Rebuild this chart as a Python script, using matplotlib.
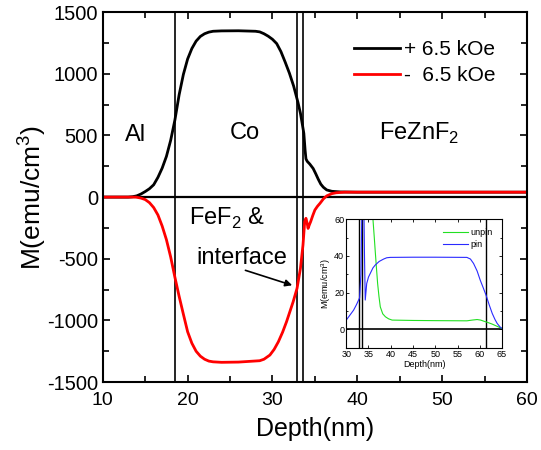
import numpy as np
import matplotlib
matplotlib.use('Agg')
import matplotlib.pyplot as plt
from matplotlib.ticker import MultipleLocator

plt.rcParams['font.family'] = ['Liberation Sans', 'DejaVu Sans']
plt.rcParams['mathtext.fontset'] = 'custom'
plt.rcParams['mathtext.rm'] = 'Liberation Sans'
plt.rcParams['axes.unicode_minus'] = False

#Perfil de magnetizacion, campo positivo
depth_pos = [10, 13, 13.5, 14, 14.5, 15, 15.5, 16, 16.5, 17, 17.5, 18, 18.5, 19, 19.5, 20, 20.5,
             21, 21.5, 22, 22.5, 23, 24, 26, 28, 28.5, 29, 29.5, 30, 30.5, 31, 31.5, 32, 32.5,
             33, 33.3, 33.5, 33.7, 33.85, 33.95, 34.1, 34.4, 34.8, 35.1, 35.4, 35.7, 36, 36.4,
             37, 38, 40, 50, 60]
m_pos = [0, 0, 3, 10, 25, 45, 68, 100, 160, 235, 330, 460, 625, 830, 995, 1120, 1205,
         1265, 1303, 1325, 1338, 1345, 1348, 1349, 1345, 1340, 1325, 1305, 1280, 1245, 1180, 1095, 1005, 900,
         770, 680, 600, 517, 380, 310, 290, 268, 232, 190, 145, 105, 80, 58,
         47, 42, 40, 40, 40]

#Perfil de magnetizacion, campo negativo
depth_neg = [10, 13.9, 14.5, 15, 15.5, 16, 16.5, 17, 17.5, 18, 18.5, 19, 19.5, 20, 20.5, 21, 21.5,
             22, 22.5, 23, 24, 26, 28.5, 29, 29.7, 30.2, 30.7, 31.2, 31.66, 32.05, 32.44, 32.9,
             33.3, 33.6, 33.8, 33.95, 34.1, 34.2, 34.35, 34.5, 34.75, 35.0, 35.3, 35.6, 36, 36.4,
             37, 37.5, 38.5, 40, 50, 60]
m_neg = [0, 0, -8, -20, -45, -85, -145, -235, -345, -485, -650, -805, -950, -1092, -1185, -1250, -1290,
         -1315, -1330, -1336, -1340, -1338, -1327, -1315, -1281, -1235, -1173, -1095, -1011, -930, -849, -740,
         -578, -389, -200, -172, -215, -254, -225, -200, -150, -105, -75, -51, -15, 10,
         28, 35, 40, 40, 40, 40]

#Inset: unpin y pin
depth_unpin = [34.5, 35.5, 36.0, 36.3, 36.5, 36.8, 37.05, 37.35, 37.65, 38.2, 38.8, 39.5, 40.3, 45,
               50, 57.1, 58.3, 59.4, 60.2, 60.9, 61.8, 62.8, 64, 65]
m_unpin = [200, 100, 60, 50, 43, 33, 25, 18, 12.3, 8.5, 6.9, 5.8, 5.1, 4.9,
           4.8, 4.7, 5.1, 5.4, 5.1, 4.5, 3.8, 2.9, 1.6, 0.5]
depth_pin = [30, 30.8, 31.65, 32.3, 33.0, 33.3, 33.6, 33.9, 34.1, 34.27, 34.6, 35, 35.4, 36, 36.5,
             37.4, 38.4, 39.1, 39.9, 45, 50, 57.1, 57.9, 58.6, 59.4, 60.1, 60.8, 61.4, 62.1,
             62.8, 63.4, 63.9, 64.5, 65]
m_pin = [5.1, 7.7, 10.5, 13.5, 17.2, 30, 80, 80, 40, 16, 25, 28.5, 30.5, 33.5, 35,
         37, 38.3, 39, 39.2, 39.3, 39.3, 39.2, 38.3, 35.9, 31.8, 26.8, 22.5, 18.7, 13.5,
         8.7, 5.5, 3.3, 1.5, 0.5]

#Interfaces
v_main = [18.57, 32.9, 33.55]
v_inset = [32.9, 33.52, 61.4]

fig = plt.figure(figsize=(5.41, 4.5), dpi=100)
ax = fig.add_axes([0.190, 0.151, 0.784, 0.822])

for xv in v_main:
  ax.axvline(xv, color='black', lw=1.2)
ax.axhline(0, color='black', lw=1.6)
ax.plot(depth_pos, m_pos, color='black', lw=2.0, label='+ 6.5 kOe')
ax.plot(depth_neg, m_neg, color='red', lw=2.0, label='-  6.5 kOe')

ax.set_xlim(10, 60)
ax.set_ylim(-1500, 1500)
ax.xaxis.set_major_locator(MultipleLocator(10))
ax.xaxis.set_minor_locator(MultipleLocator(5))
ax.yaxis.set_major_locator(MultipleLocator(500))
ax.yaxis.set_minor_locator(MultipleLocator(250))
ax.tick_params(which='both', direction='in', top=True, right=True, width=1.2)
ax.tick_params(which='major', length=5, labelsize=14)
ax.tick_params(which='minor', length=4)
ax.tick_params(axis='y', labelsize=14.5)
ax.tick_params(axis='x', pad=7)
for s in ax.spines.values():
  s.set_linewidth(1.5)
ax.set_xlabel('Depth(nm)', fontsize=18, labelpad=6)
ax.set_ylabel('M(emu/cm$^3$)', fontsize=19, labelpad=-1)

leg = ax.legend(loc='upper right', bbox_to_anchor=(0.97, 0.975), frameon=False, fontsize=15,
                handlelength=2.2, handletextpad=0.2, labelspacing=0.35)
for l in leg.get_lines():
  l.set_linewidth(2.0)

ax.text(13.9, 500, 'Al', fontsize=17, ha='center', va='center')
ax.text(26.7, 520, 'Co', fontsize=17, ha='center', va='center')
ax.text(42.6, 520, 'FeZnF$_2$', fontsize=17, ha='left', va='center')
ax.text(20.2, -175, 'FeF$_2$ &', fontsize=17, ha='left', va='center')
ax.text(26.4, -495, 'interface', fontsize=17, ha='center', va='center')
ax.annotate('', xy=(32.64, -722), xytext=(26.5, -587),
            arrowprops=dict(arrowstyle='-|>', color='black', lw=1.2, mutation_scale=10))

#Inset
axi = fig.add_axes([0.640, 0.227, 0.288, 0.286])
for xv in v_inset:
  axi.axvline(xv, color='black', lw=1.0)
axi.axhline(0, color='black', lw=1.2)
axi.plot(depth_unpin, m_unpin, color='#22e022', lw=0.8, label='unpin')
axi.plot(depth_pin, m_pin, color='#2a2aff', lw=0.8, label='pin')
axi.set_xlim(30, 65)
axi.set_ylim(-10, 60)
axi.xaxis.set_major_locator(MultipleLocator(5))
axi.yaxis.set_major_locator(MultipleLocator(20))
axi.yaxis.set_minor_locator(MultipleLocator(10))
axi.tick_params(which='both', direction='in', top=True, right=True, width=0.6, labelsize=6.5, pad=1.5)
axi.tick_params(which='major', length=2.5)
axi.tick_params(which='minor', length=1.5)
for s in axi.spines.values():
  s.set_linewidth(0.8)
axi.set_xlabel('Depth(nm)', fontsize=6.5, labelpad=1)
axi.set_ylabel('M(emu/cm$^3$)', fontsize=6.5, labelpad=1)
axi.legend(loc='upper right', frameon=False, fontsize=6.5, handlelength=2.8,
           handletextpad=0.3, labelspacing=0.3, borderaxespad=0.6)

fig.savefig('out.png', dpi=100)
